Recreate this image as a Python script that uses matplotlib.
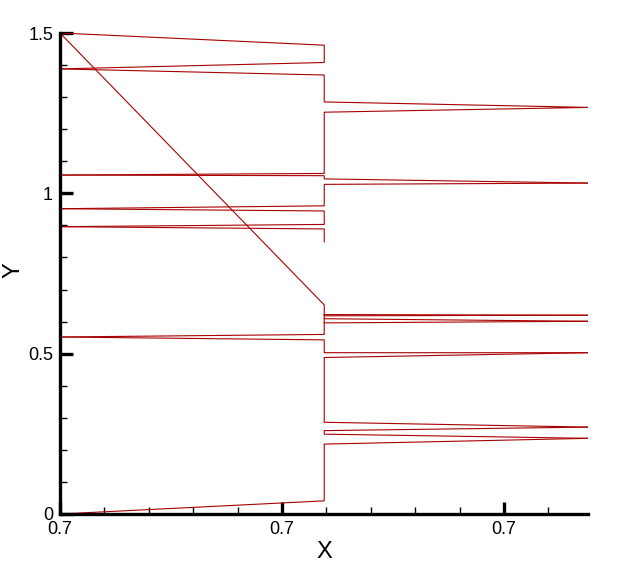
import matplotlib
matplotlib.use("Agg")
import matplotlib.pyplot as plt
from matplotlib.ticker import MultipleLocator

plt.rcParams['font.family'] = ['Liberation Sans', 'DejaVu Sans']

# x positions of the three columns of points (left edge, jump, right edge)
XL = 0.70000
XJ = 0.700119
XR = 0.700238

# boundary lines, each as x list and y list
lines_x = [
    [XL, XJ, XJ, XL],
    [XL, XJ, XJ, XR, XJ, XJ, XL],
    [XL, XJ, XJ, XR],
    [XR, XJ, XJ, XL],
    [XL, XJ, XJ, XL],
    [XL, XJ, XJ],
    [XL, XJ, XJ, XL],
    [XJ, XR],
    [XJ, XR],
    [XJ, XR],
    [XJ, XR],
    [XL, XJ, XJ, XR],
    [XR, XJ, XJ, XR],
    [XR, XJ, XJ, XR],
    [XR, XJ, XJ, XL],
]
lines_y = [
    [1.500, 1.462, 1.408, 1.388],
    [1.388, 1.369, 1.285, 1.268, 1.253, 1.062, 1.057],
    [1.057, 1.055, 1.045, 1.032],
    [1.032, 1.028, 0.961, 0.952],
    [0.952, 0.945, 0.903, 0.896],
    [0.896, 0.889, 0.849],
    [1.500, 0.652, 0.560, 0.552],
    [0.622, 0.620],
    [0.618, 0.620],
    [0.609, 0.601],
    [0.596, 0.601],
    [0.552, 0.543, 0.503, 0.503],
    [0.503, 0.488, 0.286, 0.271],
    [0.271, 0.260, 0.249, 0.236],
    [0.236, 0.218, 0.041, 0.000],
]

xticks = [0.7000, 0.7001, 0.7002]
xticklabels = ["0.7", "0.7", "0.7"]
yticks = [0, 0.5, 1, 1.5]
yticklabels = ["0", "0.5", "1", "1.5"]

fig = plt.figure(figsize=(6.31, 5.72), dpi=100)
ax = fig.add_axes([60/631, 58/572, 528/631, 481/572])

for xs, ys in zip(lines_x, lines_y):
    ax.plot(xs, ys, color='#a80000', lw=0.8, solid_joinstyle='miter')

ax.set_xlim(0.7, 0.7002378)
ax.set_ylim(0, 1.5)

ax.set_xticks(xticks)
ax.set_xticklabels(xticklabels)
ax.set_yticks(yticks)
ax.set_yticklabels(yticklabels)
ax.xaxis.set_minor_locator(MultipleLocator(0.00002))
ax.yaxis.set_minor_locator(MultipleLocator(0.1))

for s in ['top', 'right']:
    ax.spines[s].set_visible(False)
for s in ['left', 'bottom']:
    ax.spines[s].set_linewidth(2.4)

ax.tick_params(which='major', direction='in', length=9, width=2.4,
               labelsize=13, pad=5)
ax.tick_params(which='minor', direction='in', length=5, width=1.0)

ax.set_xlabel("X", fontsize=17, labelpad=2)
ax.set_ylabel("Y", fontsize=17)
ax.yaxis.set_label_coords(-0.068, 0.507)

fig.savefig("out.png", dpi=100)
